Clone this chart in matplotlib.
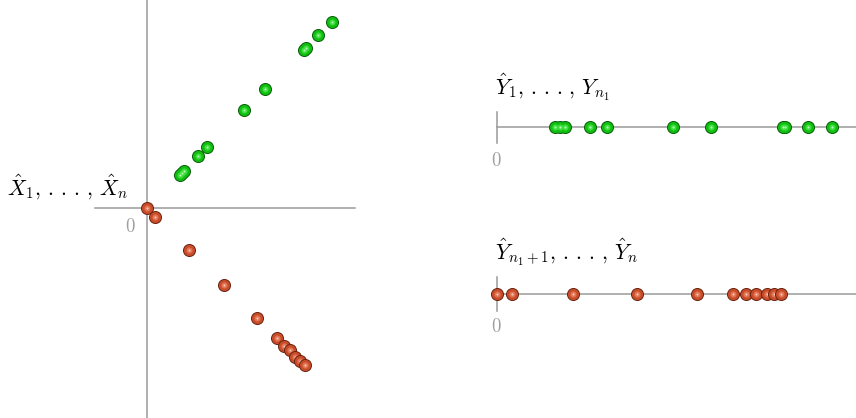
import numpy as np
import matplotlib
matplotlib.use("Agg")
import matplotlib.pyplot as plt

plt.rcParams['mathtext.fontset'] = 'cm'

# Embedded points of the first group (green) and the second group (red)
green_x = [0.325, 0.35, 0.37, 0.51, 0.60, 0.97, 1.18, 1.57, 1.59, 1.71, 1.85]
green_y = [0.325, 0.35, 0.37, 0.52, 0.61, 0.98, 1.19, 1.58, 1.60, 1.73, 1.86]
red_x = [0.00, 0.08, 0.42, 0.77, 1.10, 1.30, 1.37, 1.43, 1.48, 1.53, 1.58]
red_y = [0.00, -0.09, -0.42, -0.77, -1.10, -1.30, -1.38, -1.42, -1.49, -1.53, -1.57]

# One-dimensional values of each group
green_line = [0.58, 0.63, 0.68, 0.93, 1.10, 1.76, 2.14, 2.86, 2.88, 3.11, 3.35]
red_line = [0.00, 0.15, 0.76, 1.40, 2.00, 2.36, 2.49, 2.59, 2.70, 2.77, 2.84]

AXIS = '#9a9a9a'
ZERO = '#a0a0a0'
GREEN = ('#0b5e0b', '#10bd10', '#3ddf3d', '#b8f5b8')
RED = ('#6a2412', '#c84c2a', '#e27553', '#f5cbbb')

DOTS = r',\,.\,.\,.\,,\,'
LABEL_X = r'$\hat{X}_1' + DOTS + r'\hat{X}_n$'
LABEL_Y1 = r'$\hat{Y}_1' + DOTS + r'Y_{n_1}$'
LABEL_Y2 = r'$\hat{Y}_{n_1+1}' + DOTS + r'\hat{Y}_n$'
LABEL_SIZE = 15.5

W, H = 856, 418
fig = plt.figure(figsize=(W / 100, H / 100), dpi=100)


def balls(ax, xs, ys, palette, merged):
    """Shaded spheres built from stacked discs (rim, body, glow, highlight)."""
    sizes = [9.4, 8.0, 4.4, 1.5]  # diameters in points
    if merged:
        for k, (c, d) in enumerate(zip(palette, sizes)):
            ax.scatter(xs, ys, s=d ** 2, c=c, linewidths=0, zorder=5 + k)
    else:
        for i, (x, y) in enumerate(zip(xs, ys)):
            for k, (c, d) in enumerate(zip(palette, sizes)):
                ax.scatter([x], [y], s=d ** 2, c=c, linewidths=0,
                           zorder=5 + 4 * i + k)


# --- two-dimensional embedding ---
ax = fig.add_axes([0, 0, 360 / W, 1])
ax.set_xlim(-1.47, 2.13)
ax.set_ylim(-2.10, 2.08)
ax.axis('off')
ax.plot([0, 0], [-2.10, 2.08], color=AXIS, lw=1.1, zorder=1)
ax.plot([-0.52, 2.08], [0, 0], color=AXIS, lw=1.1, zorder=1)
ax.text(-0.18, 0.13, LABEL_X, ha='right', va='baseline', fontsize=LABEL_SIZE)
ax.text(-0.17, -0.19, r'$0$', ha='center', va='center', fontsize=13.5,
        color=ZERO)
balls(ax, green_x, green_y, GREEN, merged=True)
balls(ax, red_x, red_y, RED, merged=False)

# --- first group on a line ---
ax1 = fig.add_axes([470 / W, 218 / H, 386 / W, 160 / H])
ax1.set_xlim(-0.27, 3.59)
ax1.set_ylim(-0.73, 0.87)
ax1.axis('off')
ax1.plot([0, 3.59], [0, 0], color=AXIS, lw=1.1, zorder=1)
ax1.plot([0, 0], [-0.16, 0.15], color=AXIS, lw=1.1, zorder=1)
ax1.text(-0.02, 0.32, LABEL_Y1, ha='left', va='baseline', fontsize=LABEL_SIZE)
ax1.text(-0.01, -0.33, r'$0$', ha='center', va='center', fontsize=13.5,
         color=ZERO)
balls(ax1, green_line, np.zeros(len(green_line)), GREEN, merged=True)

# --- second group on a line ---
ax2 = fig.add_axes([470 / W, 48 / H, 386 / W, 160 / H])
ax2.set_xlim(-0.27, 3.59)
ax2.set_ylim(-0.76, 0.84)
ax2.axis('off')
ax2.plot([-0.05, 3.59], [0, 0], color=AXIS, lw=1.1, zorder=1)
ax2.plot([0, 0], [-0.17, 0.17], color=AXIS, lw=1.1, zorder=1)
ax2.text(-0.02, 0.34, LABEL_Y2, ha='left', va='baseline', fontsize=LABEL_SIZE)
ax2.text(-0.01, -0.32, r'$0$', ha='center', va='center', fontsize=13.5,
         color=ZERO)
balls(ax2, red_line, np.zeros(len(red_line)), RED, merged=False)

fig.savefig('out.png', dpi=100)
